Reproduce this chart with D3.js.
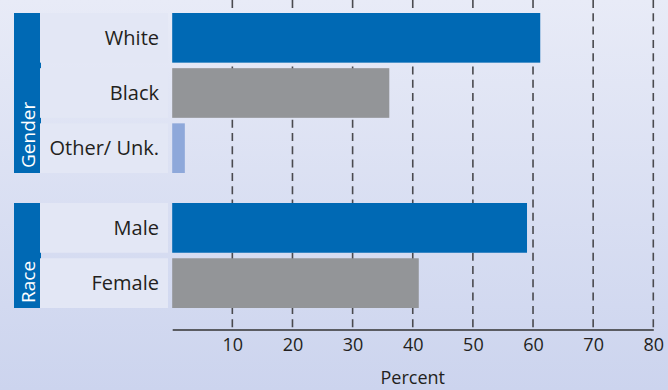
<!DOCTYPE html>
<html>
<head>
<meta charset="utf-8">
<script src="https://cdn.jsdelivr.net/npm/d3@7"></script>
<style>
  html, body { margin: 0; padding: 0; }
  svg { display: block; font-family: "Open Sans", "Noto Sans", sans-serif; }
</style>
</head>
<body>
<svg id="chart" width="668" height="390"></svg>
<script>
// Category groups (strip label, members) and bar values in percent
const groupNames = ["Gender", "Race"];
const gender = ["White", "Black", "Other/ Unk."];
const genderValues = [61.2, 36.1, 2.1];
const race = ["Male", "Female"];
const raceValues = [59, 41];
const xTicks = [10, 20, 30, 40, 50, 60, 70, 80];
const xTitle = "Percent";

const colorsBySlot = ["#0069b4", "#939598", "#8ea8da"];

const W = 668, H = 390;
const svg = d3.select("#chart");

// Background gradient
const defs = svg.append("defs");
const grad = defs.append("linearGradient").attr("id", "bg").attr("x1", 0).attr("y1", 0).attr("x2", 0).attr("y2", 1);
grad.append("stop").attr("offset", "0%").attr("stop-color", "#e8ebf7");
grad.append("stop").attr("offset", "100%").attr("stop-color", "#ccd4ee");
svg.append("rect").attr("width", W).attr("height", H).attr("fill", "url(#bg)");

const x = d3.scaleLinear().domain([0, 80]).range([172.2, 653.3]);
const axisY = 329.5;

// Rows: each group laid out with its own band scale
const groups = [
  { name: groupNames[0], cats: gender, vals: genderValues, top: 13, bottom: 173 },
  { name: groupNames[1], cats: race, vals: raceValues, top: 203, bottom: 308 }
];

// Dashed vertical gridlines
svg.append("g").selectAll("line").data(xTicks).join("line")
  .attr("x1", d => x(d)).attr("x2", d => x(d))
  .attr("y1", 0).attr("y2", axisY)
  .attr("stroke", "#4a4a4f").attr("stroke-width", 1.6)
  .attr("stroke-dasharray", "8,5.3");

groups.forEach(g => {
  const y = d3.scaleBand().domain(g.cats).range([g.top, g.bottom]).paddingInner(0.1).paddingOuter(0);

  // Colored strip with rotated group label
  svg.append("rect")
    .attr("x", 14).attr("y", g.top).attr("width", 27).attr("height", g.bottom - g.top)
    .attr("fill", "#0069b4");
  svg.append("text")
    .attr("transform", `translate(34.5,${g.bottom - 5}) rotate(-90)`)
    .attr("fill", "#ffffff").attr("font-size", 19)
    .text(g.name);

  // Label boxes
  svg.append("g").selectAll("rect").data(g.cats).join("rect")
    .attr("x", 40).attr("y", d => y(d)).attr("width", 128).attr("height", y.bandwidth())
    .attr("fill", "#e3e7f5");
  svg.append("g").selectAll("text").data(g.cats).join("text")
    .attr("x", 159).attr("y", d => y(d) + y.bandwidth() / 2)
    .attr("dy", "0.36em").attr("text-anchor", "end")
    .attr("fill", "#231f20").attr("font-size", 20)
    .text(d => d);

  // Bars
  svg.append("g").selectAll("rect").data(g.vals).join("rect")
    .attr("x", x(0)).attr("y", (d, i) => y(g.cats[i]))
    .attr("width", d => x(d) - x(0)).attr("height", y.bandwidth())
    .attr("fill", (d, i) => colorsBySlot[i]);
});

// X axis
const axis = d3.axisBottom(x).tickValues(xTicks).tickSize(0).tickPadding(9);
const ax = svg.append("g").attr("transform", `translate(0,${axisY})`).call(axis);
ax.select(".domain").attr("stroke", "#333").attr("stroke-width", 1.6);
ax.selectAll("text").attr("font-size", 18).attr("fill", "#231f20")
  .attr("font-family", "\"Open Sans\", \"Noto Sans\", sans-serif");

svg.append("text")
  .attr("x", x(40)).attr("y", 384)
  .attr("text-anchor", "middle").attr("fill", "#231f20").attr("font-size", 18)
  .text(xTitle);
</script>
</body>
</html>
